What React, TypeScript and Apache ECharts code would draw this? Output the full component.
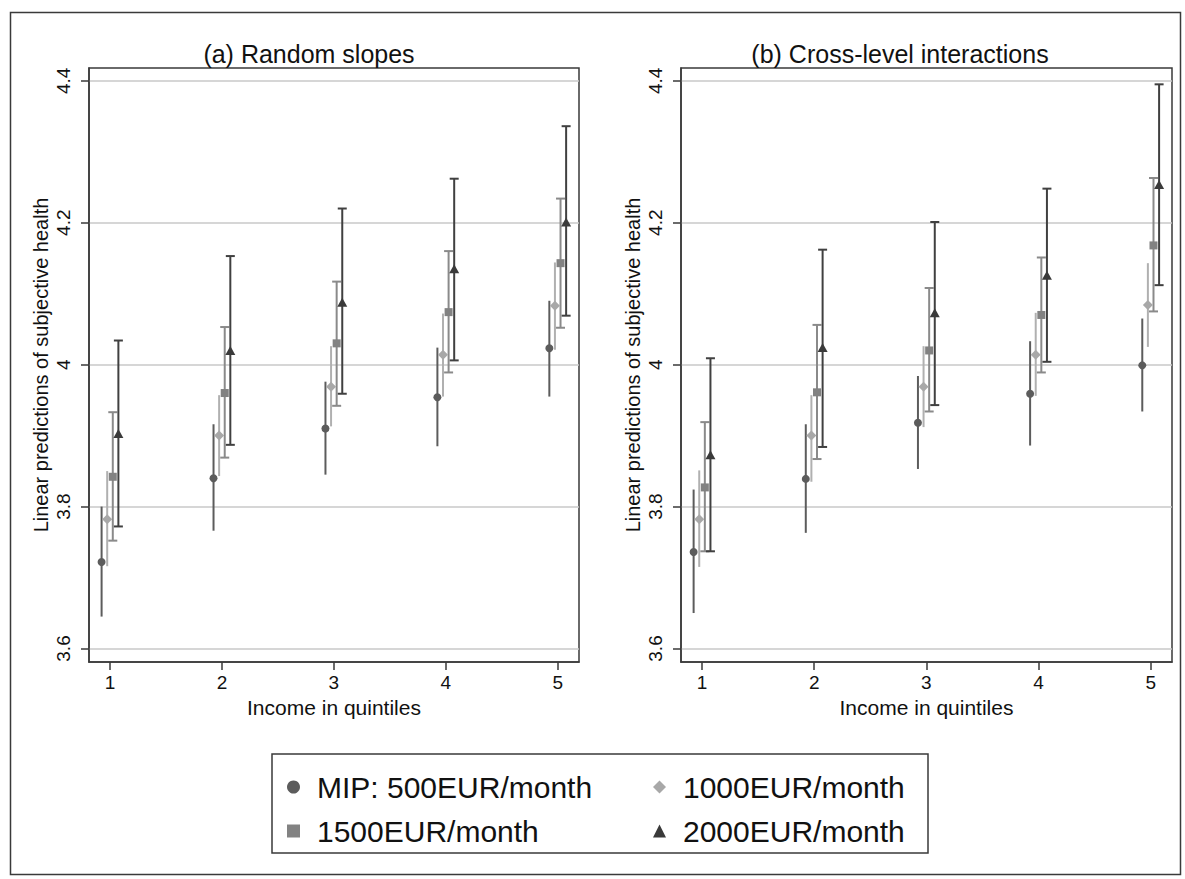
import { useEffect, useRef } from "react";
import * as echarts from "echarts";

const quintiles = [1, 2, 3, 4, 5];
const xTicks = [1, 2, 3, 4, 5];
const yTicks = [3.6, 3.8, 4.0, 4.2, 4.4];
const groupNames = ["MIP: 500EUR/month", "1000EUR/month", "1500EUR/month", "2000EUR/month"];
const panelTitles = ["(a) Random slopes", "(b) Cross-level interactions"];
const xAxisTitle = "Income in quintiles";
const yAxisTitle = "Linear predictions of subjective health";

// Panel (a) Random slopes
const a500 = [3.722, 3.840, 3.910, 3.954, 4.023];
const a500Lo = [3.645, 3.766, 3.845, 3.885, 3.955];
const a500Hi = [3.800, 3.916, 3.976, 4.024, 4.090];
const a1000 = [3.782, 3.900, 3.969, 4.014, 4.083];
const a1000Lo = [3.716, 3.843, 3.913, 3.955, 4.021];
const a1000Hi = [3.850, 3.957, 4.026, 4.072, 4.144];
const a1500 = [3.842, 3.960, 4.030, 4.074, 4.143];
const a1500Lo = [3.752, 3.869, 3.942, 3.989, 4.052];
const a1500Hi = [3.933, 4.053, 4.117, 4.160, 4.234];
const a2000 = [3.903, 4.020, 4.088, 4.135, 4.201];
const a2000Lo = [3.772, 3.887, 3.959, 4.006, 4.069];
const a2000Hi = [4.034, 4.153, 4.220, 4.262, 4.336];

// Panel (b) Cross-level interactions
const b500 = [3.736, 3.839, 3.918, 3.959, 3.999];
const b500Lo = [3.650, 3.763, 3.853, 3.886, 3.934];
const b500Hi = [3.824, 3.916, 3.984, 4.033, 4.065];
const b1000 = [3.782, 3.900, 3.969, 4.014, 4.084];
const b1000Lo = [3.715, 3.835, 3.912, 3.956, 4.025];
const b1000Hi = [3.851, 3.957, 4.026, 4.073, 4.143];
const b1500 = [3.827, 3.961, 4.020, 4.070, 4.168];
const b1500Lo = [3.737, 3.867, 3.934, 3.989, 4.075];
const b1500Hi = [3.919, 4.056, 4.108, 4.151, 4.263];
const b2000 = [3.873, 4.024, 4.073, 4.126, 4.254];
const b2000Lo = [3.737, 3.884, 3.943, 4.004, 4.112];
const b2000Hi = [4.009, 4.162, 4.201, 4.248, 4.395];

const panels = [
  [
    [a500, a500Lo, a500Hi],
    [a1000, a1000Lo, a1000Hi],
    [a1500, a1500Lo, a1500Hi],
    [a2000, a2000Lo, a2000Hi],
  ],
  [
    [b500, b500Lo, b500Hi],
    [b1000, b1000Lo, b1000Hi],
    [b1500, b1500Lo, b1500Hi],
    [b2000, b2000Lo, b2000Hi],
  ],
];

const FONT = "'Liberation Sans', Arial, Helvetica, sans-serif";
const AXIS_COLOR = "#3a3a3a";
const TEXT_COLOR = "#111111";

const groupStyles = [
  { symbol: "circle", size: 8, color: "#5c5c5c", line: "#5c5c5c", cap: false },
  { symbol: "diamond", size: [10, 10], color: "#a8a8a8", line: "#b0b0b0", cap: false },
  { symbol: "rect", size: 8, color: "#828282", line: "#8a8a8a", cap: true },
  { symbol: "triangle", size: [10, 9], color: "#3a3a3a", line: "#404040", cap: true },
];
const offsets = [-0.075, -0.025, 0.025, 0.075];

function buildOption() {
  const grids = [
    { left: 89, top: 68, width: 490, height: 594 },
    { left: 681, top: 68, width: 491, height: 594 },
  ].map((g) => ({ ...g, show: true, borderColor: AXIS_COLOR, borderWidth: 1.5, backgroundColor: "transparent" }));

  const xAxes = [0, 1].map((i) => ({
    type: "value",
    gridIndex: i,
    min: 0.8125,
    max: 5.19,
    axisLine: { show: true, onZero: false, lineStyle: { color: AXIS_COLOR, width: 1.5 } },
    axisTick: { show: true, length: 8, customValues: xTicks, lineStyle: { color: AXIS_COLOR, width: 1.5 } },
    axisLabel: { customValues: xTicks, fontSize: 19, color: TEXT_COLOR, margin: 11, fontFamily: FONT },
    splitLine: { show: false },
    name: xAxisTitle,
    nameLocation: "middle",
    nameGap: 30,
    nameTextStyle: { fontSize: 21, color: TEXT_COLOR, fontFamily: FONT },
  }));

  const yAxes = [0, 1].map((i) => ({
    type: "value",
    gridIndex: i,
    min: 3.581,
    max: 4.418,
    axisLine: { show: true, onZero: false, lineStyle: { color: AXIS_COLOR, width: 1.5 } },
    axisTick: { show: true, length: 8, customValues: yTicks, lineStyle: { color: AXIS_COLOR, width: 1.5 } },
    axisLabel: { customValues: yTicks, rotate: 90, fontSize: 19, color: TEXT_COLOR, margin: 16, fontFamily: FONT },
    splitLine: { show: true, lineStyle: { color: "#c8c8c8", width: 1.5 } },
    name: yAxisTitle,
    nameLocation: "middle",
    nameRotate: 90,
    nameGap: 38,
    nameTextStyle: { fontSize: 20, color: TEXT_COLOR, fontFamily: FONT },
  }));

  const series: any[] = [];
  panels.forEach((groups, p) => {
    groups.forEach(([mid, lo, hi], g) => {
      const st = groupStyles[g];
      const xs = quintiles.map((q) => q + offsets[g]);
      series.push({
        type: "custom",
        name: groupNames[g] + " CI",
        xAxisIndex: p,
        yAxisIndex: p,
        z: 2,
        silent: true,
        encode: { x: 0, y: [1, 2] },
        data: xs.map((x, k) => [x, lo[k], hi[k]]),
        renderItem: (params: any, api: any) => {
          const x = api.value(0);
          const p1 = api.coord([x, api.value(1)]);
          const p2 = api.coord([x, api.value(2)]);
          const style = { stroke: st.line, lineWidth: 2 };
          const children: any[] = [
            { type: "line", shape: { x1: p1[0], y1: p1[1], x2: p2[0], y2: p2[1] }, style },
          ];
          if (st.cap) {
            children.push({ type: "line", shape: { x1: p1[0] - 4.5, y1: p1[1], x2: p1[0] + 4.5, y2: p1[1] }, style });
            children.push({ type: "line", shape: { x1: p2[0] - 4.5, y1: p2[1], x2: p2[0] + 4.5, y2: p2[1] }, style });
          }
          return { type: "group", children };
        },
      });
      series.push({
        type: "scatter",
        name: groupNames[g],
        xAxisIndex: p,
        yAxisIndex: p,
        z: 3,
        symbol: st.symbol,
        symbolSize: st.size,
        itemStyle: { color: st.color, opacity: 1 },
        data: xs.map((x, k) => [x, mid[k]]),
      });
    });
  });

  const legendCommon = {
    orient: "vertical",
    itemWidth: 13,
    itemHeight: 13,
    itemGap: 8,
    selectedMode: false,
    textStyle: { fontSize: 30, lineHeight: 30, color: TEXT_COLOR, fontFamily: FONT, padding: [0, 0, 6, 12] },
  };
  const legendIcons = ["circle", "diamond", "rect", "triangle"];

  return {
    animation: false,
    backgroundColor: "#ffffff",
    title: [
      { text: panelTitles[0], left: 304, top: 36, textAlign: "center", textStyle: { fontSize: 25, fontWeight: "normal", color: TEXT_COLOR, fontFamily: FONT } },
      { text: panelTitles[1], left: 895, top: 36, textAlign: "center", textStyle: { fontSize: 25, fontWeight: "normal", color: TEXT_COLOR, fontFamily: FONT } },
    ],
    grid: grids,
    xAxis: xAxes,
    yAxis: yAxes,
    legend: [
      { ...legendCommon, left: 282, top: 764, data: [0, 2].map((g) => ({ name: groupNames[g], icon: legendIcons[g] })) },
      { ...legendCommon, left: 648, top: 764, data: [1, 3].map((g) => ({ name: groupNames[g], icon: legendIcons[g] })) },
    ],
    graphic: [
      { type: "rect", left: 8, top: 10, shape: { x: 0, y: 0, width: 1170, height: 862 }, style: { fill: "none", stroke: AXIS_COLOR, lineWidth: 1.5 }, silent: true, z: 0 },
      { type: "rect", shape: { x: 272, y: 754, width: 656, height: 99 }, style: { fill: "none", stroke: AXIS_COLOR, lineWidth: 1.5 }, silent: true },
    ],
    series,
  };
}

export default function App() {
  const ref = useRef<HTMLDivElement>(null);
  useEffect(() => {
    if (!ref.current) return;
    const chart = echarts.init(ref.current, undefined, { renderer: "svg" });
    chart.setOption(buildOption() as any);
    return () => chart.dispose();
  }, []);
  return (
    <div
      ref={ref}
      style={{ position: "fixed", left: 0, top: 0, width: 1185, height: 879, background: "#fff" }}
    />
  );
}
